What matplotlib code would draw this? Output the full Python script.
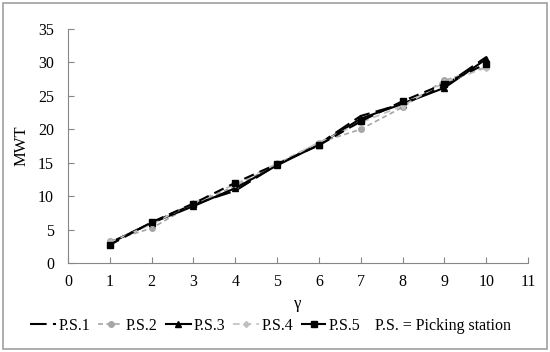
import numpy as np
import matplotlib.pyplot as plt
from matplotlib.patches import Rectangle

plt.rcParams['font.family'] = 'Liberation Serif'

gamma = [1, 2, 3, 4, 5, 6, 7, 8, 9, 10]
ps1 = [3.0, 6.0, 8.8, 10.8, 14.7, 17.8, 22.0, 23.8, 26.5, 30.8]
ps2 = [3.3, 5.2, 8.8, 11.5, 14.8, 18.0, 20.0, 23.3, 27.3, 29.3]
ps3 = [3.0, 6.0, 8.5, 11.2, 14.6, 17.7, 21.6, 23.8, 26.2, 30.5]
ps4 = [3.1, 5.8, 9.0, 11.8, 14.9, 18.0, 21.0, 23.5, 27.0, 29.2]
ps5 = [2.7, 6.1, 8.9, 12.0, 14.8, 17.6, 21.2, 24.2, 26.8, 29.8]

fig = plt.figure(figsize=(5.5, 3.52), dpi=100)
ax = fig.add_axes([0.1236, 0.2528, 0.8364, 0.6648])

ax.plot(gamma, ps1, color='black', lw=1.5, ls=(0, (8, 3)), label='P.S.1')
ax.plot(gamma, ps2, color='#a6a6a6', lw=1.2, ls=(0, (3, 2)), marker='o', ms=4, label='P.S.2')
ax.plot(gamma, ps3, color='black', lw=1.5, ls='-', marker='^', ms=4, label='P.S.3')
ax.plot(gamma, ps4, color='#bfbfbf', lw=1.2, ls=(0, (4, 3)), marker='D', ms=3, label='P.S.4')
ax.plot(gamma, ps5, color='black', lw=1.5, ls=(0, (5, 3)), marker='s', ms=4, label='P.S.5')

ax.set_xlim(0, 11)
ax.set_ylim(0, 35)
ax.set_xticks(range(0, 12))
ax.set_yticks(range(0, 36, 5))
for s in ['top', 'right']:
    ax.spines[s].set_visible(False)
for s in ['left', 'bottom']:
    ax.spines[s].set_color('#868686')
ax.tick_params(direction='in', length=4, color='#868686', labelsize=11.5)
ax.tick_params(axis='x', pad=8)
ax.tick_params(axis='y', pad=10)
ax.set_xlabel('γ', fontsize=12, labelpad=4)
ax.set_ylabel('MWT', fontsize=12, labelpad=6)

fig.legend(loc='center left', bbox_to_anchor=(0.055, 0.074), ncol=5, frameon=False,
           fontsize=11.5, handlelength=1.6, handletextpad=0.15, columnspacing=0.5,
           borderpad=0, borderaxespad=0)
fig.text(0.682, 0.074, 'P.S. = Picking station', fontsize=11.5, va='center', ha='left')

fig.patches.append(Rectangle((0.006, 0.008), 0.988, 0.984, transform=fig.transFigure,
                             fill=False, edgecolor='#a0a0a0', lw=1.2))

fig.savefig('out.png', dpi=100)
